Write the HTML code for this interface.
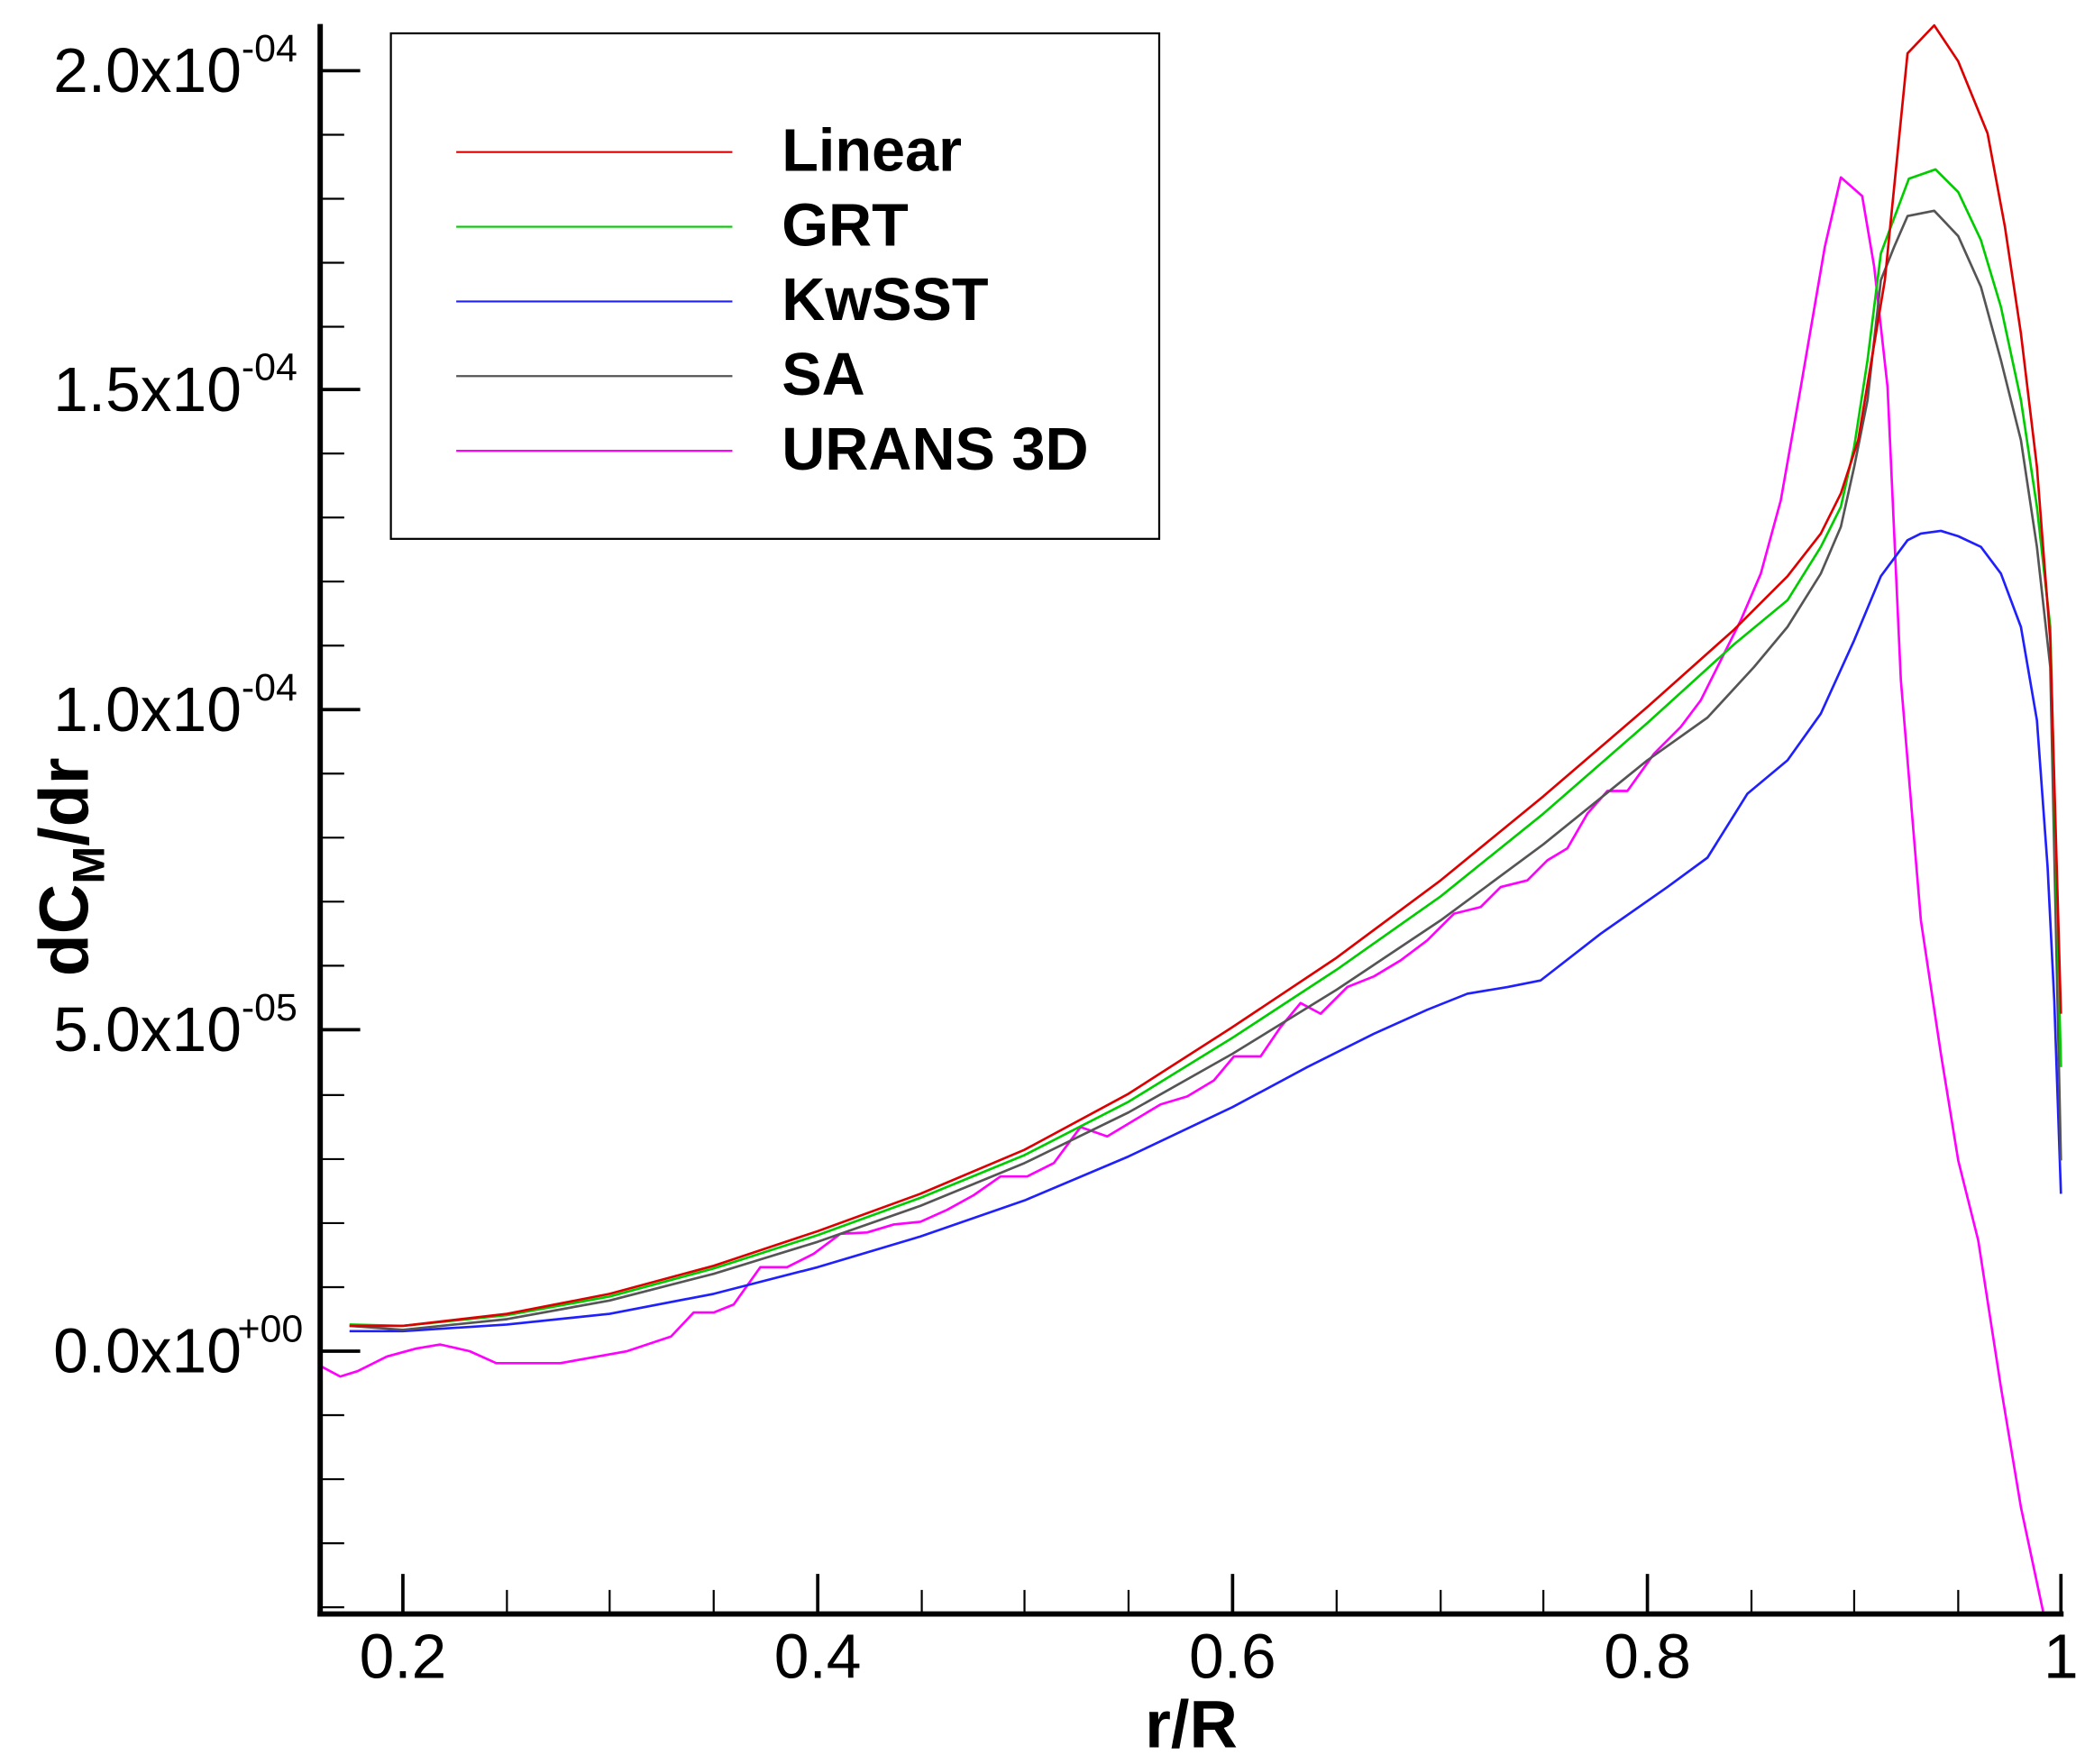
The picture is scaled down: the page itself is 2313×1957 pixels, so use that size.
<!DOCTYPE html>
<html><head><meta charset="utf-8"><style>
html,body{margin:0;padding:0;background:#fff}
svg{display:block}
text{font-family:"Liberation Sans",Arial,sans-serif;fill:#000}
</style></head><body>
<svg width="2313" height="1957" viewBox="0 0 1563 1322.5" xmlns="http://www.w3.org/2000/svg">
<rect width="1563" height="1322.5" fill="#fff"/>
<g fill="none" stroke-linejoin="round" stroke-width="1.8">
<polyline stroke="#ff00ff" points="240,1024 255,1032 268,1028 290,1017 312,1011 330,1008 352,1013 372,1022 420,1022 470,1013 503,1002 520,984 535,984 550,978 570,950 590,950 610,940 630,925 650,924 670,918 690,916 710,907 730,896 750,882 770,882 790,872 810,845 830,852 850,840 870,828 890,822 910,810 925,792 945,792 960,770 975,752 990,760 1010,740 1030,732 1050,720 1070,705 1090,685 1110,680 1125,665 1145,660 1160,645 1175,636 1190,610 1205,593 1220,593 1240,565 1260,545 1275,525 1290,495 1305,465 1320,430 1335,375 1350,290 1368,185 1380,133 1396,147 1405,200 1415,290 1425,510 1440,690 1455,790 1468,870 1483,930 1500,1040 1515,1130 1532,1210"/>
<polyline stroke="#2020ff" points="262,998 302,998 380,993 457,985 535,970 613,950 690,927 768,900 846,867 924,830 980,800 1030,775 1070,757 1100,745 1130,740 1155,735 1200,700 1250,665 1280,643 1310,595 1340,570 1365,535 1390,480 1410,432 1430,405 1440,400 1455,398 1468,402 1485,410 1500,430 1515,470 1527,540 1535,650 1540,750 1545,895"/>
<polyline stroke="#555" points="262,994 302,997 380,989 457,975 535,955 613,931 690,904 768,872 846,834 924,790 1002,742 1080,690 1157,633 1235,570 1280,538 1315,500 1340,470 1365,430 1380,395 1390,350 1400,300 1410,210 1420,185 1430,162 1450,158 1468,177 1485,215 1500,270 1515,330 1527,410 1537,500 1545,870"/>
<polyline stroke="#00cc00" points="262,993 302,994 380,986 457,972 535,951 613,926 690,898 768,866 846,826 924,778 1002,727 1080,672 1157,610 1235,542 1300,483 1340,450 1365,410 1380,380 1390,335 1400,270 1410,190 1431,134 1451,127 1468,144 1485,180 1500,230 1515,300 1527,380 1537,470 1545,800"/>
<polyline stroke="#dd0000" points="262,994 302,994 380,985 457,970 535,949 613,923 690,895 768,862 846,820 924,770 1002,718 1080,660 1157,597 1235,530 1300,472 1340,432 1365,400 1380,370 1393,330 1403,270 1413,210 1420,140 1430,40 1450,19 1468,46 1490,100 1503,170 1515,250 1527,350 1537,480 1545,760"/>
</g>
<g stroke="#000">
<line x1="240" y1="18" x2="240" y2="1212" stroke-width="4"/>
<line x1="238" y1="1210" x2="1547" y2="1210" stroke-width="4"/>
<g stroke-width="2.5">
<line x1="240" y1="53" x2="270" y2="53"/><line x1="240" y1="292" x2="270" y2="292"/><line x1="240" y1="532" x2="270" y2="532"/><line x1="240" y1="772" x2="270" y2="772"/><line x1="240" y1="1013" x2="270" y2="1013"/>
<line x1="302" y1="1210" x2="302" y2="1180"/><line x1="613" y1="1210" x2="613" y2="1180"/><line x1="924" y1="1210" x2="924" y2="1180"/><line x1="1235" y1="1210" x2="1235" y2="1180"/><line x1="1545" y1="1210" x2="1545" y2="1180"/>
</g>
<g stroke-width="1.5">
<line x1="240" y1="101" x2="258" y2="101"/><line x1="240" y1="149" x2="258" y2="149"/><line x1="240" y1="197" x2="258" y2="197"/><line x1="240" y1="245" x2="258" y2="245"/>
<line x1="240" y1="340" x2="258" y2="340"/><line x1="240" y1="388" x2="258" y2="388"/><line x1="240" y1="436" x2="258" y2="436"/><line x1="240" y1="484" x2="258" y2="484"/>
<line x1="240" y1="580" x2="258" y2="580"/><line x1="240" y1="628" x2="258" y2="628"/><line x1="240" y1="676" x2="258" y2="676"/><line x1="240" y1="724" x2="258" y2="724"/>
<line x1="240" y1="821" x2="258" y2="821"/><line x1="240" y1="869" x2="258" y2="869"/><line x1="240" y1="917" x2="258" y2="917"/><line x1="240" y1="965" x2="258" y2="965"/>
<line x1="240" y1="1061" x2="258" y2="1061"/><line x1="240" y1="1109" x2="258" y2="1109"/><line x1="240" y1="1157" x2="258" y2="1157"/><line x1="240" y1="1205" x2="258" y2="1205"/>
<line x1="380" y1="1210" x2="380" y2="1192"/><line x1="457" y1="1210" x2="457" y2="1192"/><line x1="535" y1="1210" x2="535" y2="1192"/>
<line x1="691" y1="1210" x2="691" y2="1192"/><line x1="768" y1="1210" x2="768" y2="1192"/><line x1="846" y1="1210" x2="846" y2="1192"/>
<line x1="1002" y1="1210" x2="1002" y2="1192"/><line x1="1080" y1="1210" x2="1080" y2="1192"/><line x1="1157" y1="1210" x2="1157" y2="1192"/>
<line x1="1313" y1="1210" x2="1313" y2="1192"/><line x1="1390" y1="1210" x2="1390" y2="1192"/><line x1="1468" y1="1210" x2="1468" y2="1192"/>
</g>
</g>
<g font-size="47" text-anchor="end">
<text x="181" y="69">2.0x10</text><text x="181" y="308">1.5x10</text><text x="181" y="548">1.0x10</text><text x="181" y="788">5.0x10</text><text x="181" y="1029">0.0x10</text>
</g>
<g font-size="29">
<text x="181" y="46">-04</text><text x="181" y="285">-04</text><text x="181" y="525">-04</text><text x="181" y="765">-05</text><text x="178" y="1006">+00</text>
</g>
<g font-size="47" text-anchor="middle">
<text x="302" y="1258">0.2</text><text x="613" y="1258">0.4</text><text x="924" y="1258">0.6</text><text x="1235" y="1258">0.8</text><text x="1545" y="1258">1</text>
</g>
<text x="893" y="1310" font-size="50" font-weight="bold" text-anchor="middle">r/R</text>
<text transform="translate(66,650) rotate(-90)" font-size="52" font-weight="bold" text-anchor="middle">dC<tspan font-size="34" dy="12">M</tspan><tspan dy="-12">/dr</tspan></text>
<rect x="293" y="25" width="576" height="379" fill="#fff" stroke="#000" stroke-width="1.5"/>
<g stroke-width="1.5">
<line x1="342" y1="114" x2="549" y2="114" stroke="#dd0000"/>
<line x1="342" y1="170" x2="549" y2="170" stroke="#00cc00"/>
<line x1="342" y1="226" x2="549" y2="226" stroke="#2020ff"/>
<line x1="342" y1="282" x2="549" y2="282" stroke="#555"/>
<line x1="342" y1="338" x2="549" y2="338" stroke="#ff00ff"/>
</g>
<g font-size="45" font-weight="bold">
<text x="586" y="128">Linear</text><text x="586" y="184">GRT</text><text x="586" y="240">KwSST</text><text x="586" y="296">SA</text><text x="586" y="352">URANS 3D</text>
</g>
</svg>
</body></html>
